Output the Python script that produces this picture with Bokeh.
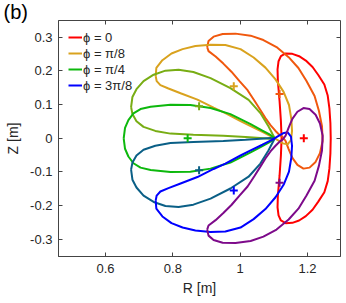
from bokeh.plotting import figure
from bokeh.models import Legend, LegendItem, LinearAxis, FixedTicker, Range1d
from bokeh.embed import file_html
from bokeh.resources import INLINE

# ---------------- data ----------------
# phi = 0
red_R = [1.123, 1.121, 1.117, 1.112, 1.111, 1.114, 1.121, 1.135, 1.155, 1.175, 1.195, 1.215,
         1.232, 1.250, 1.260, 1.265, 1.268, 1.269, 1.268, 1.265, 1.260, 1.250, 1.232, 1.215,
         1.195, 1.175, 1.155, 1.135, 1.121, 1.114, 1.111, 1.112, 1.117, 1.121]
red_Z = [0.000, 0.051, 0.111, 0.170, 0.205, 0.229, 0.244, 0.252, 0.251, 0.244, 0.231, 0.212,
         0.188, 0.160, 0.127, 0.090, 0.045, 0.000, -0.045, -0.090, -0.127, -0.160, -0.188, -0.212,
         -0.231, -0.244, -0.251, -0.252, -0.244, -0.229, -0.205, -0.170, -0.111, -0.051]

# phi = pi/16
orange_R = [0.902, 0.906, 0.921, 0.948, 0.986, 1.031, 1.069, 1.108, 1.144, 1.173, 1.197, 1.221,
            1.234, 1.243, 1.245, 1.237, 1.224, 1.206, 1.188, 1.170, 1.155, 1.144, 1.135, 1.126,
            1.117, 1.105, 1.090, 1.075, 1.060, 1.043, 1.022, 0.998, 0.974, 0.950, 0.927, 0.906]
orange_Z = [0.271, 0.289, 0.302, 0.310, 0.311, 0.305, 0.292, 0.271, 0.241, 0.209, 0.170, 0.126,
            0.081, 0.036, -0.008, -0.044, -0.070, -0.087, -0.090, -0.079, -0.058, -0.032, -0.008, 0.004,
            0.010, 0.022, 0.039, 0.060, 0.084, 0.111, 0.143, 0.170, 0.198, 0.222, 0.243, 0.259]

# phi = pi/8
gold_R = [0.749, 0.751, 0.769, 0.796, 0.829, 0.867, 0.912, 0.956, 1.001, 1.040, 1.075, 1.105,
          1.129, 1.145, 1.152, 1.154, 1.151, 1.141, 1.127, 1.114, 1.096, 1.066, 1.031, 1.001,
          0.956, 0.921, 0.873, 0.823, 0.787, 0.763, 0.752]
gold_Z = [0.185, 0.209, 0.232, 0.252, 0.265, 0.274, 0.278, 0.277, 0.265, 0.240, 0.210, 0.175,
          0.138, 0.099, 0.057, 0.022, -0.005, -0.018, -0.015, -0.007, 0.004, 0.019, 0.036, 0.051,
          0.075, 0.091, 0.115, 0.134, 0.148, 0.158, 0.170]

# phi = 3pi/16
olive_R = [0.676, 0.680, 0.692, 0.713, 0.743, 0.778, 0.817, 0.861, 0.912, 0.971, 1.025, 1.060,
           1.084, 1.096, 1.102, 1.090, 1.060, 1.016, 0.950, 0.861, 0.793, 0.748, 0.713, 0.692, 0.680]
olive_Z = [0.093, 0.123, 0.146, 0.170, 0.189, 0.201, 0.204, 0.197, 0.179, 0.149, 0.114, 0.075,
           0.036, 0.013, 0.002, -0.001, 0.001, 0.004, 0.008, 0.011, 0.014, 0.022, 0.034, 0.051, 0.072]

# phi = pi/4
green_R = [0.654, 0.658, 0.668, 0.683, 0.704, 0.734, 0.793, 0.852, 0.912, 0.971, 1.031, 1.066,
           1.090, 1.102, 1.090, 1.066, 1.031, 0.971, 0.912, 0.852, 0.793, 0.734, 0.704, 0.683,
           0.668, 0.658]
green_Z = [0.000, 0.031, 0.054, 0.074, 0.087, 0.094, 0.100, 0.099, 0.090, 0.072, 0.042, 0.023,
           0.010, 0.000, -0.010, -0.023, -0.042, -0.072, -0.090, -0.099, -0.100, -0.094, -0.087, -0.074,
           -0.054, -0.031]

# phi = 5pi/16
teal_R = [0.676, 0.680, 0.692, 0.713, 0.743, 0.778, 0.817, 0.861, 0.912, 0.971, 1.025, 1.060,
          1.084, 1.096, 1.102, 1.090, 1.060, 1.016, 0.950, 0.861, 0.793, 0.748, 0.713, 0.692, 0.680]
teal_Z = [-0.093, -0.123, -0.146, -0.170, -0.189, -0.201, -0.204, -0.197, -0.179, -0.149, -0.114, -0.075,
          -0.036, -0.013, -0.002, 0.001, -0.001, -0.004, -0.008, -0.011, -0.014, -0.022, -0.034, -0.051, -0.072]

# phi = 3pi/8
blue_R = [0.749, 0.751, 0.769, 0.796, 0.829, 0.867, 0.912, 0.956, 1.001, 1.040, 1.075, 1.105,
          1.129, 1.145, 1.152, 1.154, 1.151, 1.141, 1.127, 1.114, 1.096, 1.066, 1.031, 1.001,
          0.956, 0.921, 0.873, 0.823, 0.787, 0.763, 0.752]
blue_Z = [-0.185, -0.209, -0.232, -0.252, -0.265, -0.274, -0.278, -0.277, -0.265, -0.240, -0.210, -0.175,
          -0.138, -0.099, -0.057, -0.022, 0.005, 0.018, 0.015, 0.007, -0.004, -0.019, -0.036, -0.051,
          -0.075, -0.091, -0.115, -0.134, -0.148, -0.158, -0.170]

# phi = 7pi/16
purple_R = [0.902, 0.906, 0.921, 0.948, 0.986, 1.031, 1.069, 1.108, 1.144, 1.173, 1.197, 1.221,
            1.234, 1.243, 1.245, 1.237, 1.224, 1.206, 1.188, 1.170, 1.155, 1.144, 1.135, 1.126,
            1.117, 1.105, 1.090, 1.075, 1.060, 1.043, 1.022, 0.998, 0.974, 0.950, 0.927, 0.906]
purple_Z = [-0.271, -0.289, -0.302, -0.310, -0.311, -0.305, -0.292, -0.271, -0.241, -0.209, -0.170, -0.126,
            -0.081, -0.036, 0.008, 0.044, 0.070, 0.087, 0.090, 0.079, 0.058, 0.032, 0.008, -0.004,
            -0.010, -0.022, -0.039, -0.060, -0.084, -0.111, -0.143, -0.170, -0.198, -0.222, -0.243, -0.259]

# magnetic axis positions (+ markers), same order as the curves
axis_R = [1.189, 1.117, 0.981, 0.878, 0.844, 0.878, 0.981, 1.117]
axis_Z = [0.000, 0.132, 0.155, 0.095, 0.000, -0.095, -0.155, -0.132]

curve_colors = ["#FF0000", "#F0580E", "#D9A21E", "#78AD14", "#0DB80D", "#0A5F86", "#0000FF", "#7D0A8A"]
legend_labels = ["\u03d5 = 0", "\u03d5 = \u03c0/8", "\u03d5 = \u03c0/4", "\u03d5 = 3\u03c0/8"]
legend_curve_index = [0, 2, 4, 6]
panel_tag = "(b)"

x_ticks = [0.6, 0.8, 1.0, 1.2]
x_tick_labels = ["0.6", "0.8", "1", "1.2"]
y_ticks = [-0.3, -0.2, -0.1, 0.0, 0.1, 0.2, 0.3]
y_tick_labels = ["-0.3", "-0.2", "-0.1", "0", "0.1", "0.2", "0.3"]

x_limits = (0.4604, 1.298)
y_limits = (-0.351, 0.35)

# ---------------- figure ----------------
FONT = "Liberation Sans"
AXC = "#444444"
TXT = "#262626"

p = figure(width=346, height=303, output_backend="svg", toolbar_location=None,
           x_range=Range1d(*x_limits), y_range=Range1d(*y_limits),
           min_border_left=58, min_border_right=6, min_border_top=20, min_border_bottom=47,
           background_fill_color="white", border_fill_color="white")
p.grid.visible = False
p.outline_line_color = AXC
p.outline_line_width = 1

# panel tag as the (left-shifted) title
p.title.text = panel_tag
p.title.text_font = FONT
p.title.text_font_size = "20px"
p.title.text_font_style = "normal"
p.title.text_color = "black"
p.title.align = "left"
p.title.offset = -55
p.title.standoff = -4

curves = [(red_R, red_Z), (orange_R, orange_Z), (gold_R, gold_Z), (olive_R, olive_Z),
          (green_R, green_Z), (teal_R, teal_Z), (blue_R, blue_Z), (purple_R, purple_Z)]
renderers = []
for (R, Z), col in zip(curves, curve_colors):
    r = p.line(R + R[:1], Z + Z[:1], line_color=col, line_width=2)
    renderers.append(r)

p.scatter(axis_R, axis_Z, marker="cross", size=8, line_width=2, color=curve_colors)

# axes
for ax in (p.xaxis[0], p.yaxis[0]):
    ax.major_tick_in = 4
    ax.major_tick_out = 0
    ax.minor_tick_line_color = None
    ax.axis_line_color = AXC
    ax.major_tick_line_color = AXC
    ax.major_label_text_font = FONT
    ax.major_label_text_font_size = "13px"
    ax.major_label_text_color = TXT
    ax.axis_label_text_font = FONT
    ax.axis_label_text_font_size = "14px"
    ax.axis_label_text_font_style = "normal"
    ax.axis_label_text_color = TXT

p.xaxis.ticker = FixedTicker(ticks=x_ticks)
p.xaxis.major_label_overrides = dict(zip(x_ticks, x_tick_labels))
p.xaxis.major_label_standoff = 7
p.xaxis.axis_label = "R [m]"
p.xaxis.axis_label_standoff = 4

p.yaxis.ticker = FixedTicker(ticks=y_ticks)
p.yaxis.major_label_overrides = dict(zip(y_ticks, y_tick_labels))
p.yaxis.major_label_standoff = 6
p.yaxis.axis_label = "Z [m]"
p.yaxis.axis_label_standoff = 6

for ticks, side in ((x_ticks, "above"), (y_ticks, "right")):
    ax = LinearAxis(ticker=FixedTicker(ticks=ticks), major_tick_in=4, major_tick_out=0,
                    minor_tick_line_color=None, axis_line_color=None,
                    major_tick_line_color=AXC, major_label_standoff=0,
                    major_label_text_font_size="0px",
                    major_label_overrides={t: "" for t in ticks})
    p.add_layout(ax, side)

# legend
items = [LegendItem(label=lab, renderers=[renderers[i]])
         for lab, i in zip(legend_labels, legend_curve_index)]
legend = Legend(items=items, location=(10, 163), border_line_color=None,
                background_fill_alpha=0, label_text_font=FONT, label_text_font_size="13px",
                label_text_color=TXT, glyph_width=14, glyph_height=16, label_height=16,
                spacing=0, padding=0, margin=0, label_standoff=1)
p.add_layout(legend)

open("out.html", "w").write(file_html(p, INLINE))
